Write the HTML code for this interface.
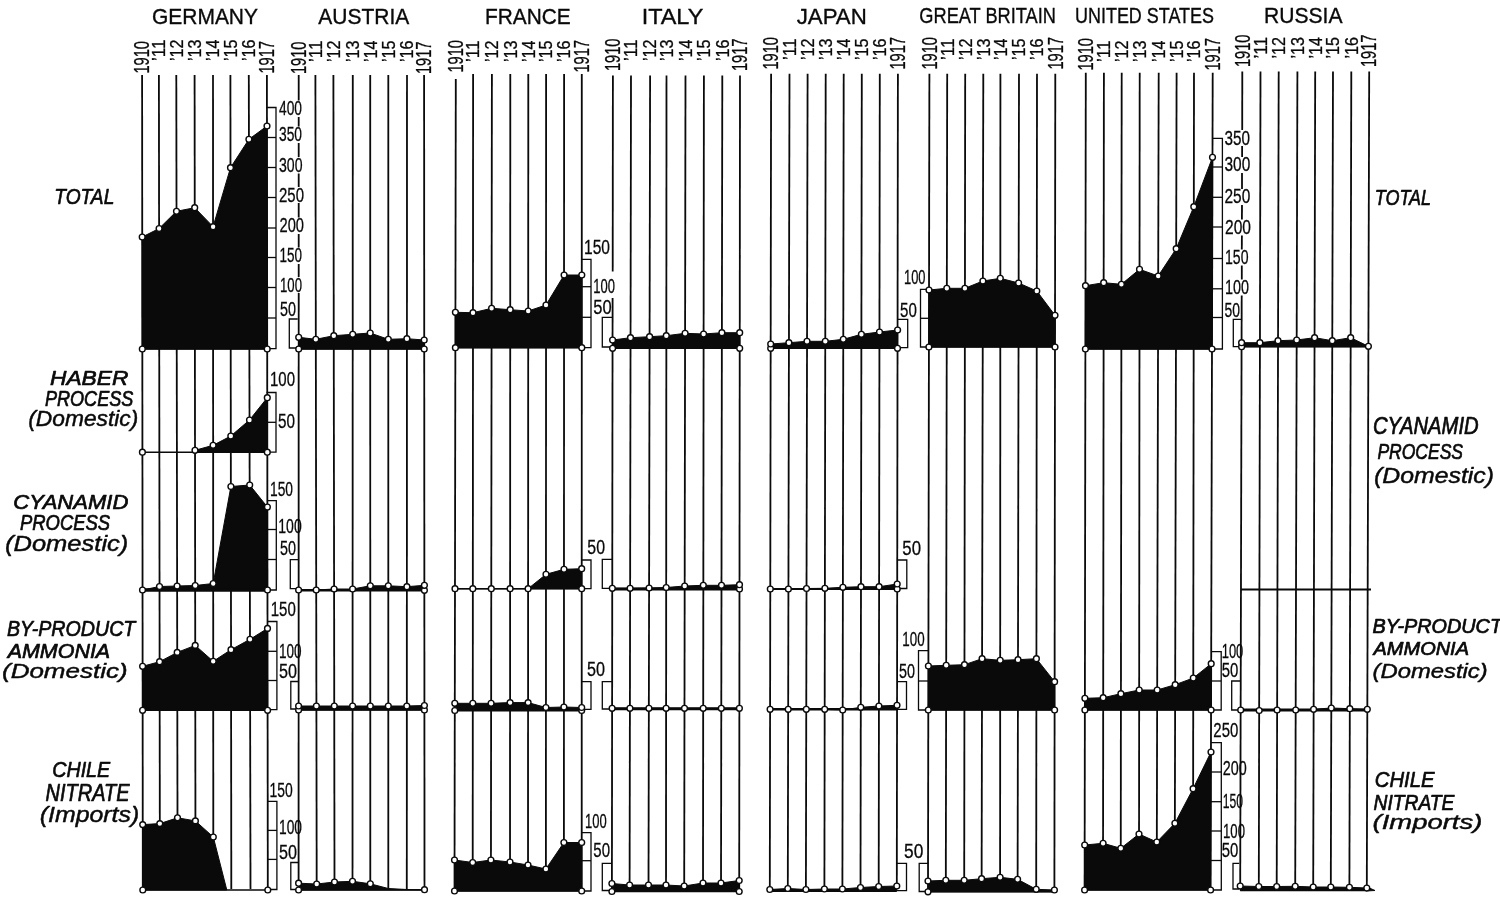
<!DOCTYPE html>
<html lang="en"><head><meta charset="utf-8"><title>Nitrogen chart</title>
<style>html,body{margin:0;padding:0;background:#fff}svg{display:block}</style></head>
<body>
<svg width="1500" height="897" viewBox="0 0 1500 897">
<rect width="1500" height="897" fill="#fff"/>
<g stroke="#0a0a0a" stroke-width="1.80" fill="none" stroke-linecap="butt">
<line x1="142.1" y1="75.0" x2="142.8" y2="889.0"/>
<line x1="158.9" y1="75.0" x2="159.9" y2="889.0"/>
<line x1="176.3" y1="75.0" x2="177.6" y2="889.0"/>
<line x1="194.6" y1="75.0" x2="195.5" y2="889.0"/>
<line x1="213.0" y1="75.0" x2="213.3" y2="889.0"/>
<line x1="230.4" y1="75.0" x2="231.3" y2="889.0"/>
<line x1="248.8" y1="75.0" x2="250.5" y2="889.0"/>
<line x1="266.9" y1="75.0" x2="267.8" y2="889.0"/>
<line x1="298.7" y1="75.0" x2="298.7" y2="100.5"/>
<line x1="298.7" y1="117.0" x2="298.7" y2="126.5"/>
<line x1="298.7" y1="143.0" x2="298.7" y2="157.0"/>
<line x1="298.7" y1="173.5" x2="298.7" y2="187.0"/>
<line x1="298.7" y1="203.0" x2="298.7" y2="217.5"/>
<line x1="298.7" y1="234.0" x2="298.7" y2="247.5"/>
<line x1="298.7" y1="264.0" x2="298.7" y2="277.0"/>
<line x1="298.7" y1="293.0" x2="298.6" y2="889.0"/>
<line x1="315.4" y1="75.0" x2="316.7" y2="889.0"/>
<line x1="333.4" y1="75.0" x2="334.5" y2="889.0"/>
<line x1="352.8" y1="75.0" x2="352.5" y2="889.0"/>
<line x1="370.2" y1="75.0" x2="370.3" y2="889.0"/>
<line x1="388.3" y1="75.0" x2="388.3" y2="889.0"/>
<line x1="407.0" y1="75.0" x2="406.8" y2="889.0"/>
<line x1="424.1" y1="75.0" x2="424.5" y2="889.0"/>
<line x1="455.8" y1="79.0" x2="454.5" y2="889.0"/>
<line x1="473.1" y1="74.0" x2="472.7" y2="889.0"/>
<line x1="491.9" y1="74.0" x2="490.9" y2="889.0"/>
<line x1="510.3" y1="74.0" x2="510.0" y2="889.0"/>
<line x1="528.3" y1="74.0" x2="528.0" y2="889.0"/>
<line x1="546.1" y1="74.0" x2="545.9" y2="889.0"/>
<line x1="564.1" y1="74.0" x2="563.9" y2="889.0"/>
<line x1="581.8" y1="74.0" x2="581.7" y2="889.0"/>
<line x1="612.9" y1="75.5" x2="612.7" y2="271.5"/>
<line x1="612.6" y1="298.0" x2="611.9" y2="889.0"/>
<line x1="631.0" y1="75.5" x2="629.6" y2="889.0"/>
<line x1="650.1" y1="75.5" x2="648.5" y2="889.0"/>
<line x1="666.5" y1="75.5" x2="666.0" y2="889.0"/>
<line x1="685.5" y1="75.5" x2="684.2" y2="889.0"/>
<line x1="703.9" y1="75.5" x2="703.0" y2="889.0"/>
<line x1="722.3" y1="75.5" x2="721.0" y2="889.0"/>
<line x1="740.0" y1="75.5" x2="739.2" y2="889.0"/>
<line x1="771.1" y1="73.7" x2="769.8" y2="889.0"/>
<line x1="789.5" y1="73.7" x2="787.8" y2="889.0"/>
<line x1="807.6" y1="73.7" x2="805.9" y2="889.0"/>
<line x1="825.7" y1="73.7" x2="824.4" y2="889.0"/>
<line x1="843.7" y1="73.7" x2="842.4" y2="889.0"/>
<line x1="861.8" y1="73.7" x2="860.5" y2="889.0"/>
<line x1="879.8" y1="73.7" x2="878.7" y2="889.0"/>
<line x1="897.9" y1="73.7" x2="896.8" y2="889.0"/>
<line x1="929.4" y1="73.7" x2="928.0" y2="889.0"/>
<line x1="947.2" y1="73.7" x2="945.8" y2="889.0"/>
<line x1="965.2" y1="73.7" x2="964.2" y2="889.0"/>
<line x1="983.3" y1="73.7" x2="981.6" y2="889.0"/>
<line x1="1000.4" y1="73.7" x2="1000.1" y2="889.0"/>
<line x1="1019.0" y1="73.7" x2="1017.6" y2="889.0"/>
<line x1="1037.0" y1="73.7" x2="1036.2" y2="889.0"/>
<line x1="1055.3" y1="73.7" x2="1054.4" y2="889.0"/>
<line x1="1085.8" y1="72.7" x2="1084.6" y2="889.0"/>
<line x1="1103.9" y1="72.7" x2="1103.0" y2="889.0"/>
<line x1="1121.7" y1="72.7" x2="1120.7" y2="889.0"/>
<line x1="1139.7" y1="72.7" x2="1139.0" y2="889.0"/>
<line x1="1158.7" y1="72.7" x2="1156.7" y2="889.0"/>
<line x1="1176.6" y1="72.7" x2="1174.7" y2="889.0"/>
<line x1="1194.0" y1="72.7" x2="1193.0" y2="889.0"/>
<line x1="1212.7" y1="72.7" x2="1210.6" y2="889.0"/>
<line x1="1242.3" y1="71.6" x2="1242.2" y2="130.0"/>
<line x1="1242.1" y1="146.0" x2="1242.1" y2="157.0"/>
<line x1="1242.0" y1="173.0" x2="1242.0" y2="189.0"/>
<line x1="1242.0" y1="205.0" x2="1241.9" y2="219.5"/>
<line x1="1241.9" y1="235.5" x2="1241.8" y2="249.5"/>
<line x1="1241.8" y1="265.5" x2="1241.8" y2="279.5"/>
<line x1="1241.7" y1="295.5" x2="1240.2" y2="889.0"/>
<line x1="1260.5" y1="71.6" x2="1258.8" y2="889.0"/>
<line x1="1278.7" y1="71.6" x2="1276.7" y2="889.0"/>
<line x1="1297.4" y1="71.6" x2="1295.2" y2="889.0"/>
<line x1="1315.2" y1="71.6" x2="1313.2" y2="889.0"/>
<line x1="1333.0" y1="71.6" x2="1330.8" y2="889.0"/>
<line x1="1351.3" y1="71.6" x2="1349.4" y2="889.0"/>
<line x1="1369.2" y1="71.6" x2="1366.8" y2="889.0"/>
</g>
<g fill="#0a0a0a" stroke="#0a0a0a" stroke-width="1" stroke-linejoin="round">
<polygon points="142.3,349.0 142.2,237.0 159.1,228.5 176.5,211.3 194.7,207.7 213.1,226.7 230.5,167.7 248.9,139.3 267.0,126.0 267.2,349.0"/>
<line x1="142.3" y1="349.0" x2="267.2" y2="349.0" stroke-width="1.6"/>
<polygon points="195.0,452.2 195.0,450.3 213.1,445.3 230.8,436.0 249.5,420.0 267.3,397.7 267.3,452.2"/>
<line x1="142.4" y1="452.2" x2="267.3" y2="452.2" stroke-width="1.6"/>
<polygon points="142.5,590.0 142.5,590.0 159.5,586.5 177.1,586.0 195.2,585.5 213.2,583.5 230.9,486.5 249.7,485.0 267.4,507.0 267.5,590.0"/>
<line x1="142.5" y1="590.0" x2="267.5" y2="590.0" stroke-width="3.5"/>
<polygon points="142.6,710.3 142.6,666.3 159.6,661.7 177.2,652.4 195.2,645.4 213.2,661.3 231.0,649.7 250.0,639.3 267.5,628.4 267.6,710.3"/>
<line x1="142.6" y1="710.3" x2="267.6" y2="710.3" stroke-width="1.6"/>
<polygon points="142.8,890.0 142.7,824.6 159.8,823.6 177.5,817.8 195.4,820.9 213.3,837.0 226.8,890.0"/>
<line x1="142.8" y1="890.0" x2="267.8" y2="890.0" stroke-width="1.6"/>
<polygon points="298.7,349.0 298.7,337.3 315.8,339.3 333.8,335.7 352.7,334.3 370.2,333.0 388.3,339.3 406.9,338.7 424.2,340.0 424.2,349.0"/>
<line x1="298.7" y1="349.0" x2="424.2" y2="349.0" stroke-width="1.6"/>
<polygon points="298.6,590.3 298.6,590.0 316.2,590.0 334.1,589.0 352.6,589.0 370.3,585.8 388.3,585.8 406.9,586.7 424.4,585.3 424.4,590.3"/>
<line x1="298.6" y1="590.3" x2="424.4" y2="590.3" stroke-width="2.5"/>
<polygon points="298.6,710.0 298.6,706.0 316.4,706.0 334.3,706.0 352.6,706.0 370.3,706.0 388.3,706.0 406.8,706.0 424.4,705.5 424.4,710.0"/>
<line x1="298.6" y1="710.0" x2="424.4" y2="710.0" stroke-width="1.6"/>
<polygon points="298.6,890.0 298.6,883.2 316.7,884.0 334.5,882.0 352.5,881.3 370.3,883.8 388.3,888.5 406.8,889.5 424.5,889.7 424.5,890.0"/>
<line x1="298.6" y1="890.0" x2="424.5" y2="890.0" stroke-width="1.6"/>
<polygon points="455.4,347.7 455.4,312.3 473.0,312.7 491.6,308.3 510.2,309.7 528.2,311.0 546.0,305.0 564.1,275.0 581.8,275.0 581.8,347.7"/>
<line x1="455.4" y1="347.7" x2="581.8" y2="347.7" stroke-width="1.6"/>
<polygon points="455.0,588.7 455.0,588.7 472.8,588.7 491.3,588.7 510.1,588.7 528.1,588.7 546.0,574.3 564.0,569.3 581.7,568.7 581.7,588.7"/>
<line x1="455.0" y1="588.7" x2="581.7" y2="588.7" stroke-width="1.6"/>
<polygon points="454.8,710.5 454.8,703.3 472.8,703.3 491.1,703.3 510.1,702.6 528.1,702.6 545.9,707.5 563.9,707.0 581.7,707.5 581.7,710.5"/>
<line x1="454.8" y1="710.5" x2="581.7" y2="710.5" stroke-width="2.0"/>
<polygon points="454.5,891.0 454.5,860.0 472.7,862.5 490.9,860.0 510.0,862.0 528.0,865.0 545.9,869.0 563.9,842.5 581.7,842.5 581.7,891.0"/>
<line x1="454.5" y1="891.0" x2="581.7" y2="891.0" stroke-width="1.6"/>
<polygon points="612.6,348.3 612.6,340.0 630.5,337.7 649.6,336.7 666.3,335.7 685.1,333.3 703.6,334.0 721.9,332.7 739.7,332.7 739.7,348.3"/>
<line x1="612.6" y1="348.3" x2="739.7" y2="348.3" stroke-width="1.6"/>
<polygon points="612.3,589.0 612.3,588.3 630.1,588.3 649.1,588.0 666.2,587.5 684.7,586.0 703.3,585.3 721.5,585.3 739.5,584.7 739.5,589.0"/>
<line x1="612.3" y1="589.0" x2="739.5" y2="589.0" stroke-width="2.8"/>
<polygon points="612.1,708.7 612.1,708.3 629.9,708.3 648.9,708.3 666.1,708.3 684.5,708.3 703.2,708.3 721.3,708.3 739.4,708.3 739.4,708.7"/>
<line x1="612.1" y1="708.7" x2="739.4" y2="708.7" stroke-width="3.0"/>
<polygon points="611.9,891.5 611.9,883.5 629.6,885.0 648.5,885.0 666.0,885.0 684.2,886.0 703.0,883.0 721.0,883.0 739.2,880.5 739.2,891.5"/>
<line x1="611.9" y1="891.5" x2="739.2" y2="891.5" stroke-width="1.6"/>
<polygon points="770.7,348.3 770.7,344.0 788.9,342.7 807.0,341.3 825.3,341.3 843.3,339.3 861.4,334.3 879.5,332.0 897.6,330.0 897.5,348.3"/>
<line x1="770.7" y1="348.3" x2="897.5" y2="348.3" stroke-width="1.6"/>
<polygon points="770.3,589.0 770.3,589.0 788.4,589.0 806.5,588.5 824.9,588.3 842.9,587.3 861.0,586.7 879.1,586.7 897.2,584.0 897.2,589.0"/>
<line x1="770.3" y1="589.0" x2="897.2" y2="589.0" stroke-width="2.0"/>
<polygon points="770.1,709.3 770.1,709.3 788.2,709.3 806.3,709.3 824.7,709.3 842.7,710.0 860.8,707.3 878.9,706.0 897.0,705.3 897.0,709.3"/>
<line x1="770.1" y1="709.3" x2="897.0" y2="709.3" stroke-width="2.5"/>
<polygon points="769.8,890.8 769.8,889.5 787.8,888.5 805.9,889.5 824.4,889.0 842.4,889.0 860.5,887.5 878.7,886.5 896.8,886.0 896.8,890.8"/>
<line x1="769.8" y1="890.8" x2="896.8" y2="890.8" stroke-width="2.6"/>
<polygon points="928.9,347.0 929.0,290.0 946.8,288.3 964.9,288.3 982.9,281.0 1000.3,278.3 1018.6,283.0 1036.8,291.0 1055.0,315.3 1055.0,347.0"/>
<line x1="928.9" y1="347.0" x2="1055.0" y2="347.0" stroke-width="1.6"/>
<polygon points="928.3,710.0 928.4,666.0 946.2,665.3 964.5,664.7 982.1,658.7 1000.2,660.3 1018.0,659.7 1036.4,658.7 1054.6,681.7 1054.6,710.0"/>
<line x1="928.3" y1="710.0" x2="1054.6" y2="710.0" stroke-width="1.6"/>
<polygon points="928.0,891.8 928.0,881.0 945.8,880.3 964.2,880.3 981.6,878.7 1000.1,877.3 1017.6,879.3 1036.2,889.3 1054.4,890.0 1054.4,891.8"/>
<line x1="928.0" y1="891.8" x2="1054.4" y2="891.8" stroke-width="1.6"/>
<polygon points="1085.4,349.0 1085.5,285.7 1103.7,282.7 1121.4,284.3 1139.5,269.3 1158.2,276.0 1176.2,248.7 1193.8,206.7 1212.5,157.3 1212.0,349.0"/>
<line x1="1085.4" y1="349.0" x2="1212.0" y2="349.0" stroke-width="1.6"/>
<polygon points="1084.9,710.0 1084.9,698.3 1103.2,697.7 1120.9,693.7 1139.2,690.0 1157.2,690.0 1175.2,684.7 1193.3,678.0 1211.2,663.7 1211.1,710.0"/>
<line x1="1084.9" y1="710.0" x2="1211.1" y2="710.0" stroke-width="1.6"/>
<polygon points="1084.6,890.0 1084.7,845.0 1103.1,843.3 1120.8,848.3 1139.0,834.0 1156.8,842.0 1174.9,823.3 1193.1,788.7 1211.0,752.0 1210.6,890.0"/>
<line x1="1084.6" y1="890.0" x2="1210.6" y2="890.0" stroke-width="1.6"/>
<polygon points="1241.6,346.7 1241.6,342.7 1259.9,342.7 1278.0,340.7 1296.7,340.0 1314.6,337.7 1332.3,340.7 1350.7,337.7 1368.4,346.3 1368.4,346.7"/>
<line x1="1241.6" y1="346.7" x2="1368.4" y2="346.7" stroke-width="1.6"/>
<polygon points="1240.7,710.0 1240.7,710.0 1259.2,710.5 1277.1,710.0 1295.7,710.0 1313.6,709.3 1331.3,708.0 1349.8,708.7 1367.3,709.3 1367.3,710.0"/>
<line x1="1240.7" y1="710.0" x2="1367.3" y2="710.0" stroke-width="3.0"/>
<polygon points="1240.2,890.3 1240.2,886.0 1258.8,886.5 1276.7,886.5 1295.2,886.3 1313.2,887.0 1330.8,887.0 1349.4,887.3 1366.8,888.0 1366.8,890.3"/>
<line x1="1240.2" y1="890.3" x2="1366.8" y2="890.3" stroke-width="2.0"/>
<line x1="1241" y1="589.4" x2="1371" y2="589.4" stroke-width="2"/>
<polygon points="1366,886.5 1375,890.5 1366,891"/>
</g>
<g stroke="#0a0a0a" stroke-width="1.3" fill="none">
<path d="M266.0 107.5H276.0V348.7H266.0"/>
<path d="M266.0 137.5H276.0"/>
<path d="M266.0 167.5H276.0"/>
<path d="M266.0 197.5H276.0"/>
<path d="M266.0 228.0H276.0"/>
<path d="M266.0 257.5H276.0"/>
<path d="M266.0 287.5H276.0"/>
<path d="M266.0 318.0H276.0"/>
<path d="M266.5 392.5H276.0V452.2H266.5"/>
<path d="M266.5 422.3H276.0"/>
<path d="M267.0 500.7H276.3V590.0H267.0"/>
<path d="M267.0 529.5H276.3"/>
<path d="M267.0 559.5H276.3"/>
<path d="M268.0 621.5H276.9V709.7H268.0"/>
<path d="M268.0 651.3H276.9"/>
<path d="M268.0 680.5H276.9"/>
<path d="M268.0 801.4H276.9V889.5H268.0"/>
<path d="M268.0 830.4H276.9"/>
<path d="M268.0 859.4H276.9"/>
<path d="M297.7 319.0H289.3V348.0H297.7"/>
<path d="M298.4 559.7H290.3V588.7H298.4"/>
<path d="M298.6 681.5H290.8V709.0H298.6"/>
<path d="M298.9 862.5H290.8V889.5H298.9"/>
<path d="M581.3 259.3H591.0V347.7H581.3"/>
<path d="M581.3 286.7H591.0"/>
<path d="M581.3 317.3H591.0"/>
<path d="M581.5 560.0H591.0V588.7H581.5"/>
<path d="M581.6 681.7H591.0V709.3H581.6"/>
<path d="M581.7 832.7H591.0V891.0H581.7"/>
<path d="M581.7 860.7H591.0"/>
<path d="M612.3 317.3H602.3V347.0H612.3"/>
<path d="M612.0 559.3H602.3V588.3H612.0"/>
<path d="M612.0 681.7H602.3V709.0H612.0"/>
<path d="M611.7 863.3H602.3V890.5H611.7"/>
<path d="M897.5 319.3H907.7V347.7H897.5"/>
<path d="M897.2 560.0H906.8V588.5H897.2"/>
<path d="M897.0 681.7H906.5V709.3H897.0"/>
<path d="M896.8 863.3H906.5V890.6H896.8"/>
<path d="M929.3 289.3H920.5V347.0H929.3"/>
<path d="M929.3 318.3H920.5"/>
<path d="M928.7 650.7H918.5V710.0H928.7"/>
<path d="M928.7 681.0H918.5"/>
<path d="M928.3 863.3H919.2V891.5H928.3"/>
<path d="M1212.5 138.4H1222.4V349.0H1212.5"/>
<path d="M1212.5 167.0H1222.4"/>
<path d="M1212.5 197.3H1222.4"/>
<path d="M1212.5 227.0H1222.4"/>
<path d="M1212.5 258.5H1222.4"/>
<path d="M1212.5 288.8H1222.4"/>
<path d="M1212.5 317.5H1222.4"/>
<path d="M1211.6 651.7H1221.2V710.0H1211.6"/>
<path d="M1211.6 681.0H1221.2"/>
<path d="M1211.0 742.7H1221.3V890.0H1211.0"/>
<path d="M1211.0 772.0H1221.3"/>
<path d="M1211.0 801.7H1221.3"/>
<path d="M1211.0 831.0H1221.3"/>
<path d="M1211.0 860.5H1221.3"/>
<path d="M1241.0 319.3H1233.3V346.7H1241.0"/>
<path d="M1240.0 681.0H1231.7V710.0H1240.0"/>
<path d="M1239.3 863.3H1233.0V889.0H1239.3"/>
</g>
<g fill="#fff" stroke="#0a0a0a" stroke-width="1.4">
<circle cx="142.3" cy="349.0" r="2.9"/>
<circle cx="267.2" cy="349.0" r="2.9"/>
<circle cx="142.2" cy="237.0" r="2.9"/>
<circle cx="159.1" cy="228.5" r="2.9"/>
<circle cx="176.5" cy="211.3" r="2.9"/>
<circle cx="194.7" cy="207.7" r="2.9"/>
<circle cx="213.1" cy="226.7" r="2.9"/>
<circle cx="230.5" cy="167.7" r="2.9"/>
<circle cx="248.9" cy="139.3" r="2.9"/>
<circle cx="267.0" cy="126.0" r="2.9"/>
<circle cx="267.3" cy="452.2" r="2.9"/>
<circle cx="142.4" cy="452.2" r="2.9"/>
<circle cx="195.0" cy="450.3" r="2.9"/>
<circle cx="213.1" cy="445.3" r="2.9"/>
<circle cx="230.8" cy="436.0" r="2.9"/>
<circle cx="249.5" cy="420.0" r="2.9"/>
<circle cx="267.3" cy="397.7" r="2.9"/>
<circle cx="267.5" cy="590.0" r="2.9"/>
<circle cx="142.5" cy="590.0" r="2.9"/>
<circle cx="159.5" cy="586.5" r="2.9"/>
<circle cx="177.1" cy="586.0" r="2.9"/>
<circle cx="195.2" cy="585.5" r="2.9"/>
<circle cx="213.2" cy="583.5" r="2.9"/>
<circle cx="230.9" cy="486.5" r="2.9"/>
<circle cx="249.7" cy="485.0" r="2.9"/>
<circle cx="267.4" cy="507.0" r="2.9"/>
<circle cx="142.6" cy="710.3" r="2.9"/>
<circle cx="267.6" cy="710.3" r="2.9"/>
<circle cx="142.6" cy="666.3" r="2.9"/>
<circle cx="159.6" cy="661.7" r="2.9"/>
<circle cx="177.2" cy="652.4" r="2.9"/>
<circle cx="195.2" cy="645.4" r="2.9"/>
<circle cx="213.2" cy="661.3" r="2.9"/>
<circle cx="231.0" cy="649.7" r="2.9"/>
<circle cx="250.0" cy="639.3" r="2.9"/>
<circle cx="267.5" cy="628.4" r="2.9"/>
<circle cx="142.8" cy="890.0" r="2.9"/>
<circle cx="267.8" cy="890.0" r="2.9"/>
<circle cx="142.7" cy="824.6" r="2.9"/>
<circle cx="159.8" cy="823.6" r="2.9"/>
<circle cx="177.5" cy="817.8" r="2.9"/>
<circle cx="195.4" cy="820.9" r="2.9"/>
<circle cx="213.3" cy="837.0" r="2.9"/>
<circle cx="298.7" cy="349.0" r="2.9"/>
<circle cx="424.2" cy="349.0" r="2.9"/>
<circle cx="298.7" cy="337.3" r="2.9"/>
<circle cx="315.8" cy="339.3" r="2.9"/>
<circle cx="333.8" cy="335.7" r="2.9"/>
<circle cx="352.7" cy="334.3" r="2.9"/>
<circle cx="370.2" cy="333.0" r="2.9"/>
<circle cx="388.3" cy="339.3" r="2.9"/>
<circle cx="406.9" cy="338.7" r="2.9"/>
<circle cx="424.2" cy="340.0" r="2.9"/>
<circle cx="424.4" cy="590.3" r="2.9"/>
<circle cx="298.6" cy="590.0" r="2.9"/>
<circle cx="316.2" cy="590.0" r="2.9"/>
<circle cx="334.1" cy="589.0" r="2.9"/>
<circle cx="352.6" cy="589.0" r="2.9"/>
<circle cx="370.3" cy="585.8" r="2.9"/>
<circle cx="388.3" cy="585.8" r="2.9"/>
<circle cx="406.9" cy="586.7" r="2.9"/>
<circle cx="424.4" cy="585.3" r="2.9"/>
<circle cx="298.6" cy="710.0" r="2.9"/>
<circle cx="424.4" cy="710.0" r="2.9"/>
<circle cx="298.6" cy="706.0" r="2.9"/>
<circle cx="316.4" cy="706.0" r="2.9"/>
<circle cx="334.3" cy="706.0" r="2.9"/>
<circle cx="352.6" cy="706.0" r="2.9"/>
<circle cx="370.3" cy="706.0" r="2.9"/>
<circle cx="388.3" cy="706.0" r="2.9"/>
<circle cx="406.8" cy="706.0" r="2.9"/>
<circle cx="424.4" cy="705.5" r="2.9"/>
<circle cx="298.6" cy="890.0" r="2.9"/>
<circle cx="298.6" cy="883.2" r="2.9"/>
<circle cx="316.7" cy="884.0" r="2.9"/>
<circle cx="334.5" cy="882.0" r="2.9"/>
<circle cx="352.5" cy="881.3" r="2.9"/>
<circle cx="370.3" cy="883.8" r="2.9"/>
<circle cx="424.5" cy="889.7" r="2.9"/>
<circle cx="455.4" cy="347.7" r="2.9"/>
<circle cx="581.8" cy="347.7" r="2.9"/>
<circle cx="455.4" cy="312.3" r="2.9"/>
<circle cx="473.0" cy="312.7" r="2.9"/>
<circle cx="491.6" cy="308.3" r="2.9"/>
<circle cx="510.2" cy="309.7" r="2.9"/>
<circle cx="528.2" cy="311.0" r="2.9"/>
<circle cx="546.0" cy="305.0" r="2.9"/>
<circle cx="564.1" cy="275.0" r="2.9"/>
<circle cx="581.8" cy="275.0" r="2.9"/>
<circle cx="581.7" cy="588.7" r="2.9"/>
<circle cx="455.0" cy="588.7" r="2.9"/>
<circle cx="472.8" cy="588.7" r="2.9"/>
<circle cx="491.3" cy="588.7" r="2.9"/>
<circle cx="510.1" cy="588.7" r="2.9"/>
<circle cx="528.1" cy="588.7" r="2.9"/>
<circle cx="546.0" cy="574.3" r="2.9"/>
<circle cx="564.0" cy="569.3" r="2.9"/>
<circle cx="581.7" cy="568.7" r="2.9"/>
<circle cx="454.8" cy="710.5" r="2.9"/>
<circle cx="581.7" cy="710.5" r="2.9"/>
<circle cx="454.8" cy="703.3" r="2.9"/>
<circle cx="472.8" cy="703.3" r="2.9"/>
<circle cx="491.1" cy="703.3" r="2.9"/>
<circle cx="510.1" cy="702.6" r="2.9"/>
<circle cx="528.1" cy="702.6" r="2.9"/>
<circle cx="545.9" cy="707.5" r="2.9"/>
<circle cx="563.9" cy="707.0" r="2.9"/>
<circle cx="581.7" cy="707.5" r="2.9"/>
<circle cx="454.5" cy="891.0" r="2.9"/>
<circle cx="581.7" cy="891.0" r="2.9"/>
<circle cx="454.5" cy="860.0" r="2.9"/>
<circle cx="472.7" cy="862.5" r="2.9"/>
<circle cx="490.9" cy="860.0" r="2.9"/>
<circle cx="510.0" cy="862.0" r="2.9"/>
<circle cx="528.0" cy="865.0" r="2.9"/>
<circle cx="545.9" cy="869.0" r="2.9"/>
<circle cx="563.9" cy="842.5" r="2.9"/>
<circle cx="581.7" cy="842.5" r="2.9"/>
<circle cx="612.6" cy="348.3" r="2.9"/>
<circle cx="739.7" cy="348.3" r="2.9"/>
<circle cx="612.6" cy="340.0" r="2.9"/>
<circle cx="630.5" cy="337.7" r="2.9"/>
<circle cx="649.6" cy="336.7" r="2.9"/>
<circle cx="666.3" cy="335.7" r="2.9"/>
<circle cx="685.1" cy="333.3" r="2.9"/>
<circle cx="703.6" cy="334.0" r="2.9"/>
<circle cx="721.9" cy="332.7" r="2.9"/>
<circle cx="739.7" cy="332.7" r="2.9"/>
<circle cx="739.5" cy="589.0" r="2.9"/>
<circle cx="612.3" cy="588.3" r="2.9"/>
<circle cx="630.1" cy="588.3" r="2.9"/>
<circle cx="649.1" cy="588.0" r="2.9"/>
<circle cx="666.2" cy="587.5" r="2.9"/>
<circle cx="684.7" cy="586.0" r="2.9"/>
<circle cx="703.3" cy="585.3" r="2.9"/>
<circle cx="721.5" cy="585.3" r="2.9"/>
<circle cx="739.5" cy="584.7" r="2.9"/>
<circle cx="612.1" cy="708.3" r="2.9"/>
<circle cx="629.9" cy="708.3" r="2.9"/>
<circle cx="648.9" cy="708.3" r="2.9"/>
<circle cx="666.1" cy="708.3" r="2.9"/>
<circle cx="684.5" cy="708.3" r="2.9"/>
<circle cx="703.2" cy="708.3" r="2.9"/>
<circle cx="721.3" cy="708.3" r="2.9"/>
<circle cx="739.4" cy="708.3" r="2.9"/>
<circle cx="611.9" cy="891.5" r="2.9"/>
<circle cx="739.2" cy="891.5" r="2.9"/>
<circle cx="611.9" cy="883.5" r="2.9"/>
<circle cx="629.6" cy="885.0" r="2.9"/>
<circle cx="648.5" cy="885.0" r="2.9"/>
<circle cx="666.0" cy="885.0" r="2.9"/>
<circle cx="684.2" cy="886.0" r="2.9"/>
<circle cx="703.0" cy="883.0" r="2.9"/>
<circle cx="721.0" cy="883.0" r="2.9"/>
<circle cx="739.2" cy="880.5" r="2.9"/>
<circle cx="770.7" cy="348.3" r="2.9"/>
<circle cx="897.5" cy="348.3" r="2.9"/>
<circle cx="770.7" cy="344.0" r="2.9"/>
<circle cx="788.9" cy="342.7" r="2.9"/>
<circle cx="807.0" cy="341.3" r="2.9"/>
<circle cx="825.3" cy="341.3" r="2.9"/>
<circle cx="843.3" cy="339.3" r="2.9"/>
<circle cx="861.4" cy="334.3" r="2.9"/>
<circle cx="879.5" cy="332.0" r="2.9"/>
<circle cx="897.6" cy="330.0" r="2.9"/>
<circle cx="897.2" cy="589.0" r="2.9"/>
<circle cx="770.3" cy="589.0" r="2.9"/>
<circle cx="788.4" cy="589.0" r="2.9"/>
<circle cx="806.5" cy="588.5" r="2.9"/>
<circle cx="824.9" cy="588.3" r="2.9"/>
<circle cx="842.9" cy="587.3" r="2.9"/>
<circle cx="861.0" cy="586.7" r="2.9"/>
<circle cx="879.1" cy="586.7" r="2.9"/>
<circle cx="897.2" cy="584.0" r="2.9"/>
<circle cx="770.1" cy="709.3" r="2.9"/>
<circle cx="788.2" cy="709.3" r="2.9"/>
<circle cx="806.3" cy="709.3" r="2.9"/>
<circle cx="824.7" cy="709.3" r="2.9"/>
<circle cx="842.7" cy="710.0" r="2.9"/>
<circle cx="860.8" cy="707.3" r="2.9"/>
<circle cx="878.9" cy="706.0" r="2.9"/>
<circle cx="897.0" cy="705.3" r="2.9"/>
<circle cx="769.8" cy="889.5" r="2.9"/>
<circle cx="787.8" cy="888.5" r="2.9"/>
<circle cx="805.9" cy="889.5" r="2.9"/>
<circle cx="824.4" cy="889.0" r="2.9"/>
<circle cx="842.4" cy="889.0" r="2.9"/>
<circle cx="860.5" cy="887.5" r="2.9"/>
<circle cx="878.7" cy="886.5" r="2.9"/>
<circle cx="896.8" cy="886.0" r="2.9"/>
<circle cx="928.9" cy="347.0" r="2.9"/>
<circle cx="1055.0" cy="347.0" r="2.9"/>
<circle cx="929.0" cy="290.0" r="2.9"/>
<circle cx="946.8" cy="288.3" r="2.9"/>
<circle cx="964.9" cy="288.3" r="2.9"/>
<circle cx="982.9" cy="281.0" r="2.9"/>
<circle cx="1000.3" cy="278.3" r="2.9"/>
<circle cx="1018.6" cy="283.0" r="2.9"/>
<circle cx="1036.8" cy="291.0" r="2.9"/>
<circle cx="1055.0" cy="315.3" r="2.9"/>
<circle cx="928.3" cy="710.0" r="2.9"/>
<circle cx="1054.6" cy="710.0" r="2.9"/>
<circle cx="928.4" cy="666.0" r="2.9"/>
<circle cx="946.2" cy="665.3" r="2.9"/>
<circle cx="964.5" cy="664.7" r="2.9"/>
<circle cx="982.1" cy="658.7" r="2.9"/>
<circle cx="1000.2" cy="660.3" r="2.9"/>
<circle cx="1018.0" cy="659.7" r="2.9"/>
<circle cx="1036.4" cy="658.7" r="2.9"/>
<circle cx="1054.6" cy="681.7" r="2.9"/>
<circle cx="928.0" cy="891.8" r="2.9"/>
<circle cx="928.0" cy="881.0" r="2.9"/>
<circle cx="945.8" cy="880.3" r="2.9"/>
<circle cx="964.2" cy="880.3" r="2.9"/>
<circle cx="981.6" cy="878.7" r="2.9"/>
<circle cx="1000.1" cy="877.3" r="2.9"/>
<circle cx="1017.6" cy="879.3" r="2.9"/>
<circle cx="1036.2" cy="889.3" r="2.9"/>
<circle cx="1054.4" cy="890.0" r="2.9"/>
<circle cx="1085.4" cy="349.0" r="2.9"/>
<circle cx="1212.0" cy="349.0" r="2.9"/>
<circle cx="1085.5" cy="285.7" r="2.9"/>
<circle cx="1103.7" cy="282.7" r="2.9"/>
<circle cx="1121.4" cy="284.3" r="2.9"/>
<circle cx="1139.5" cy="269.3" r="2.9"/>
<circle cx="1158.2" cy="276.0" r="2.9"/>
<circle cx="1176.2" cy="248.7" r="2.9"/>
<circle cx="1193.8" cy="206.7" r="2.9"/>
<circle cx="1212.5" cy="157.3" r="2.9"/>
<circle cx="1084.9" cy="710.0" r="2.9"/>
<circle cx="1211.1" cy="710.0" r="2.9"/>
<circle cx="1084.9" cy="698.3" r="2.9"/>
<circle cx="1103.2" cy="697.7" r="2.9"/>
<circle cx="1120.9" cy="693.7" r="2.9"/>
<circle cx="1139.2" cy="690.0" r="2.9"/>
<circle cx="1157.2" cy="690.0" r="2.9"/>
<circle cx="1175.2" cy="684.7" r="2.9"/>
<circle cx="1193.3" cy="678.0" r="2.9"/>
<circle cx="1211.2" cy="663.7" r="2.9"/>
<circle cx="1084.6" cy="890.0" r="2.9"/>
<circle cx="1210.6" cy="890.0" r="2.9"/>
<circle cx="1084.7" cy="845.0" r="2.9"/>
<circle cx="1103.1" cy="843.3" r="2.9"/>
<circle cx="1120.8" cy="848.3" r="2.9"/>
<circle cx="1139.0" cy="834.0" r="2.9"/>
<circle cx="1156.8" cy="842.0" r="2.9"/>
<circle cx="1174.9" cy="823.3" r="2.9"/>
<circle cx="1193.1" cy="788.7" r="2.9"/>
<circle cx="1211.0" cy="752.0" r="2.9"/>
<circle cx="1241.6" cy="346.7" r="2.9"/>
<circle cx="1241.6" cy="342.7" r="2.9"/>
<circle cx="1259.9" cy="342.7" r="2.9"/>
<circle cx="1278.0" cy="340.7" r="2.9"/>
<circle cx="1296.7" cy="340.0" r="2.9"/>
<circle cx="1314.6" cy="337.7" r="2.9"/>
<circle cx="1332.3" cy="340.7" r="2.9"/>
<circle cx="1350.7" cy="337.7" r="2.9"/>
<circle cx="1368.4" cy="346.3" r="2.9"/>
<circle cx="1240.7" cy="710.0" r="2.9"/>
<circle cx="1259.2" cy="710.5" r="2.9"/>
<circle cx="1277.1" cy="710.0" r="2.9"/>
<circle cx="1295.7" cy="710.0" r="2.9"/>
<circle cx="1313.6" cy="709.3" r="2.9"/>
<circle cx="1331.3" cy="708.0" r="2.9"/>
<circle cx="1349.8" cy="708.7" r="2.9"/>
<circle cx="1367.3" cy="709.3" r="2.9"/>
<circle cx="1240.2" cy="886.0" r="2.9"/>
<circle cx="1258.8" cy="886.5" r="2.9"/>
<circle cx="1276.7" cy="886.5" r="2.9"/>
<circle cx="1295.2" cy="886.3" r="2.9"/>
<circle cx="1313.2" cy="887.0" r="2.9"/>
<circle cx="1330.8" cy="887.0" r="2.9"/>
<circle cx="1349.4" cy="887.3" r="2.9"/>
<circle cx="1366.8" cy="888.0" r="2.9"/>
</g>
<g font-family="'Liberation Sans', sans-serif" fill="#0a0a0a" stroke="#0a0a0a" stroke-width="0.35">
<text x="152.0" y="24.2" font-size="22.2" textLength="106.0" lengthAdjust="spacingAndGlyphs" >GERMANY</text>
<text x="318.3" y="24.2" font-size="22.2" textLength="91.0" lengthAdjust="spacingAndGlyphs" >AUSTRIA</text>
<text x="485.0" y="24.2" font-size="22.2" textLength="85.7" lengthAdjust="spacingAndGlyphs" >FRANCE</text>
<text x="641.7" y="24.2" font-size="22.2" textLength="61.6" lengthAdjust="spacingAndGlyphs" >ITALY</text>
<text x="796.7" y="24.2" font-size="22.2" textLength="70.0" lengthAdjust="spacingAndGlyphs" >JAPAN</text>
<text x="919.3" y="23.4" font-size="22.6" textLength="136.7" lengthAdjust="spacingAndGlyphs" >GREAT BRITAIN</text>
<text x="1075.0" y="23.4" font-size="22.6" textLength="139.0" lengthAdjust="spacingAndGlyphs" >UNITED STATES</text>
<text x="1264.0" y="23.4" font-size="22.6" textLength="78.5" lengthAdjust="spacingAndGlyphs" >RUSSIA</text>
<text transform="translate(149.3 73.5) rotate(-90)" font-size="21.5" textLength="32.5" lengthAdjust="spacingAndGlyphs" stroke="#0a0a0a" stroke-width="0.3">1910</text>
<text transform="translate(165.2 61.0) rotate(-90)" font-size="18.0" textLength="21.5" lengthAdjust="spacingAndGlyphs" stroke="#0a0a0a" stroke-width="0.3">’11</text>
<text transform="translate(182.6 61.0) rotate(-90)" font-size="18.0" textLength="21.5" lengthAdjust="spacingAndGlyphs" stroke="#0a0a0a" stroke-width="0.3">’12</text>
<text transform="translate(200.9 61.0) rotate(-90)" font-size="18.0" textLength="21.5" lengthAdjust="spacingAndGlyphs" stroke="#0a0a0a" stroke-width="0.3">’13</text>
<text transform="translate(219.3 61.0) rotate(-90)" font-size="18.0" textLength="21.5" lengthAdjust="spacingAndGlyphs" stroke="#0a0a0a" stroke-width="0.3">’14</text>
<text transform="translate(236.7 61.0) rotate(-90)" font-size="18.0" textLength="21.5" lengthAdjust="spacingAndGlyphs" stroke="#0a0a0a" stroke-width="0.3">’15</text>
<text transform="translate(255.1 61.0) rotate(-90)" font-size="18.0" textLength="21.5" lengthAdjust="spacingAndGlyphs" stroke="#0a0a0a" stroke-width="0.3">’16</text>
<text transform="translate(274.1 73.5) rotate(-90)" font-size="21.5" textLength="32.5" lengthAdjust="spacingAndGlyphs" stroke="#0a0a0a" stroke-width="0.3">1917</text>
<text transform="translate(305.9 74.0) rotate(-90)" font-size="21.5" textLength="32.5" lengthAdjust="spacingAndGlyphs" stroke="#0a0a0a" stroke-width="0.3">1910</text>
<text transform="translate(321.7 62.0) rotate(-90)" font-size="18.0" textLength="21.5" lengthAdjust="spacingAndGlyphs" stroke="#0a0a0a" stroke-width="0.3">’11</text>
<text transform="translate(339.7 62.0) rotate(-90)" font-size="18.0" textLength="21.5" lengthAdjust="spacingAndGlyphs" stroke="#0a0a0a" stroke-width="0.3">’12</text>
<text transform="translate(359.1 62.0) rotate(-90)" font-size="18.0" textLength="21.5" lengthAdjust="spacingAndGlyphs" stroke="#0a0a0a" stroke-width="0.3">’13</text>
<text transform="translate(376.5 62.0) rotate(-90)" font-size="18.0" textLength="21.5" lengthAdjust="spacingAndGlyphs" stroke="#0a0a0a" stroke-width="0.3">’14</text>
<text transform="translate(394.6 62.0) rotate(-90)" font-size="18.0" textLength="21.5" lengthAdjust="spacingAndGlyphs" stroke="#0a0a0a" stroke-width="0.3">’15</text>
<text transform="translate(413.3 62.0) rotate(-90)" font-size="18.0" textLength="21.5" lengthAdjust="spacingAndGlyphs" stroke="#0a0a0a" stroke-width="0.3">’16</text>
<text transform="translate(431.3 74.0) rotate(-90)" font-size="21.5" textLength="32.5" lengthAdjust="spacingAndGlyphs" stroke="#0a0a0a" stroke-width="0.3">1917</text>
<text transform="translate(463.0 72.5) rotate(-90)" font-size="21.5" textLength="32.5" lengthAdjust="spacingAndGlyphs" stroke="#0a0a0a" stroke-width="0.3">1910</text>
<text transform="translate(479.4 62.0) rotate(-90)" font-size="18.0" textLength="21.5" lengthAdjust="spacingAndGlyphs" stroke="#0a0a0a" stroke-width="0.3">’11</text>
<text transform="translate(498.2 62.0) rotate(-90)" font-size="18.0" textLength="21.5" lengthAdjust="spacingAndGlyphs" stroke="#0a0a0a" stroke-width="0.3">’12</text>
<text transform="translate(516.6 62.0) rotate(-90)" font-size="18.0" textLength="21.5" lengthAdjust="spacingAndGlyphs" stroke="#0a0a0a" stroke-width="0.3">’13</text>
<text transform="translate(534.6 62.0) rotate(-90)" font-size="18.0" textLength="21.5" lengthAdjust="spacingAndGlyphs" stroke="#0a0a0a" stroke-width="0.3">’14</text>
<text transform="translate(552.4 62.0) rotate(-90)" font-size="18.0" textLength="21.5" lengthAdjust="spacingAndGlyphs" stroke="#0a0a0a" stroke-width="0.3">’15</text>
<text transform="translate(570.4 62.0) rotate(-90)" font-size="18.0" textLength="21.5" lengthAdjust="spacingAndGlyphs" stroke="#0a0a0a" stroke-width="0.3">’16</text>
<text transform="translate(589.0 72.5) rotate(-90)" font-size="21.5" textLength="32.5" lengthAdjust="spacingAndGlyphs" stroke="#0a0a0a" stroke-width="0.3">1917</text>
<text transform="translate(620.1 71.0) rotate(-90)" font-size="21.5" textLength="32.5" lengthAdjust="spacingAndGlyphs" stroke="#0a0a0a" stroke-width="0.3">1910</text>
<text transform="translate(637.3 61.0) rotate(-90)" font-size="18.0" textLength="21.5" lengthAdjust="spacingAndGlyphs" stroke="#0a0a0a" stroke-width="0.3">’11</text>
<text transform="translate(656.4 61.0) rotate(-90)" font-size="18.0" textLength="21.5" lengthAdjust="spacingAndGlyphs" stroke="#0a0a0a" stroke-width="0.3">’12</text>
<text transform="translate(672.8 61.0) rotate(-90)" font-size="18.0" textLength="21.5" lengthAdjust="spacingAndGlyphs" stroke="#0a0a0a" stroke-width="0.3">’13</text>
<text transform="translate(691.8 61.0) rotate(-90)" font-size="18.0" textLength="21.5" lengthAdjust="spacingAndGlyphs" stroke="#0a0a0a" stroke-width="0.3">’14</text>
<text transform="translate(710.2 61.0) rotate(-90)" font-size="18.0" textLength="21.5" lengthAdjust="spacingAndGlyphs" stroke="#0a0a0a" stroke-width="0.3">’15</text>
<text transform="translate(728.6 61.0) rotate(-90)" font-size="18.0" textLength="21.5" lengthAdjust="spacingAndGlyphs" stroke="#0a0a0a" stroke-width="0.3">’16</text>
<text transform="translate(747.2 71.0) rotate(-90)" font-size="21.5" textLength="32.5" lengthAdjust="spacingAndGlyphs" stroke="#0a0a0a" stroke-width="0.3">1917</text>
<text transform="translate(778.3 69.5) rotate(-90)" font-size="21.5" textLength="32.5" lengthAdjust="spacingAndGlyphs" stroke="#0a0a0a" stroke-width="0.3">1910</text>
<text transform="translate(795.8 60.0) rotate(-90)" font-size="18.0" textLength="21.5" lengthAdjust="spacingAndGlyphs" stroke="#0a0a0a" stroke-width="0.3">’11</text>
<text transform="translate(813.9 60.0) rotate(-90)" font-size="18.0" textLength="21.5" lengthAdjust="spacingAndGlyphs" stroke="#0a0a0a" stroke-width="0.3">’12</text>
<text transform="translate(832.0 60.0) rotate(-90)" font-size="18.0" textLength="21.5" lengthAdjust="spacingAndGlyphs" stroke="#0a0a0a" stroke-width="0.3">’13</text>
<text transform="translate(850.0 60.0) rotate(-90)" font-size="18.0" textLength="21.5" lengthAdjust="spacingAndGlyphs" stroke="#0a0a0a" stroke-width="0.3">’14</text>
<text transform="translate(868.1 60.0) rotate(-90)" font-size="18.0" textLength="21.5" lengthAdjust="spacingAndGlyphs" stroke="#0a0a0a" stroke-width="0.3">’15</text>
<text transform="translate(886.1 60.0) rotate(-90)" font-size="18.0" textLength="21.5" lengthAdjust="spacingAndGlyphs" stroke="#0a0a0a" stroke-width="0.3">’16</text>
<text transform="translate(905.1 69.5) rotate(-90)" font-size="21.5" textLength="32.5" lengthAdjust="spacingAndGlyphs" stroke="#0a0a0a" stroke-width="0.3">1917</text>
<text transform="translate(936.6 69.5) rotate(-90)" font-size="21.5" textLength="32.5" lengthAdjust="spacingAndGlyphs" stroke="#0a0a0a" stroke-width="0.3">1910</text>
<text transform="translate(953.5 60.0) rotate(-90)" font-size="18.0" textLength="21.5" lengthAdjust="spacingAndGlyphs" stroke="#0a0a0a" stroke-width="0.3">’11</text>
<text transform="translate(971.5 60.0) rotate(-90)" font-size="18.0" textLength="21.5" lengthAdjust="spacingAndGlyphs" stroke="#0a0a0a" stroke-width="0.3">’12</text>
<text transform="translate(989.6 60.0) rotate(-90)" font-size="18.0" textLength="21.5" lengthAdjust="spacingAndGlyphs" stroke="#0a0a0a" stroke-width="0.3">’13</text>
<text transform="translate(1006.7 60.0) rotate(-90)" font-size="18.0" textLength="21.5" lengthAdjust="spacingAndGlyphs" stroke="#0a0a0a" stroke-width="0.3">’14</text>
<text transform="translate(1025.3 60.0) rotate(-90)" font-size="18.0" textLength="21.5" lengthAdjust="spacingAndGlyphs" stroke="#0a0a0a" stroke-width="0.3">’15</text>
<text transform="translate(1043.3 60.0) rotate(-90)" font-size="18.0" textLength="21.5" lengthAdjust="spacingAndGlyphs" stroke="#0a0a0a" stroke-width="0.3">’16</text>
<text transform="translate(1062.5 69.5) rotate(-90)" font-size="21.5" textLength="32.5" lengthAdjust="spacingAndGlyphs" stroke="#0a0a0a" stroke-width="0.3">1917</text>
<text transform="translate(1093.0 70.5) rotate(-90)" font-size="21.5" textLength="32.5" lengthAdjust="spacingAndGlyphs" stroke="#0a0a0a" stroke-width="0.3">1910</text>
<text transform="translate(1110.2 62.0) rotate(-90)" font-size="18.0" textLength="21.5" lengthAdjust="spacingAndGlyphs" stroke="#0a0a0a" stroke-width="0.3">’11</text>
<text transform="translate(1128.0 62.0) rotate(-90)" font-size="18.0" textLength="21.5" lengthAdjust="spacingAndGlyphs" stroke="#0a0a0a" stroke-width="0.3">’12</text>
<text transform="translate(1146.0 62.0) rotate(-90)" font-size="18.0" textLength="21.5" lengthAdjust="spacingAndGlyphs" stroke="#0a0a0a" stroke-width="0.3">’13</text>
<text transform="translate(1165.0 62.0) rotate(-90)" font-size="18.0" textLength="21.5" lengthAdjust="spacingAndGlyphs" stroke="#0a0a0a" stroke-width="0.3">’14</text>
<text transform="translate(1182.9 62.0) rotate(-90)" font-size="18.0" textLength="21.5" lengthAdjust="spacingAndGlyphs" stroke="#0a0a0a" stroke-width="0.3">’15</text>
<text transform="translate(1200.3 62.0) rotate(-90)" font-size="18.0" textLength="21.5" lengthAdjust="spacingAndGlyphs" stroke="#0a0a0a" stroke-width="0.3">’16</text>
<text transform="translate(1219.9 70.5) rotate(-90)" font-size="21.5" textLength="32.5" lengthAdjust="spacingAndGlyphs" stroke="#0a0a0a" stroke-width="0.3">1917</text>
<text transform="translate(1249.5 67.0) rotate(-90)" font-size="21.5" textLength="32.5" lengthAdjust="spacingAndGlyphs" stroke="#0a0a0a" stroke-width="0.3">1910</text>
<text transform="translate(1266.8 58.5) rotate(-90)" font-size="18.0" textLength="21.5" lengthAdjust="spacingAndGlyphs" stroke="#0a0a0a" stroke-width="0.3">’11</text>
<text transform="translate(1285.0 58.5) rotate(-90)" font-size="18.0" textLength="21.5" lengthAdjust="spacingAndGlyphs" stroke="#0a0a0a" stroke-width="0.3">’12</text>
<text transform="translate(1303.7 58.5) rotate(-90)" font-size="18.0" textLength="21.5" lengthAdjust="spacingAndGlyphs" stroke="#0a0a0a" stroke-width="0.3">’13</text>
<text transform="translate(1321.5 58.5) rotate(-90)" font-size="18.0" textLength="21.5" lengthAdjust="spacingAndGlyphs" stroke="#0a0a0a" stroke-width="0.3">’14</text>
<text transform="translate(1339.3 58.5) rotate(-90)" font-size="18.0" textLength="21.5" lengthAdjust="spacingAndGlyphs" stroke="#0a0a0a" stroke-width="0.3">’15</text>
<text transform="translate(1357.6 58.5) rotate(-90)" font-size="18.0" textLength="21.5" lengthAdjust="spacingAndGlyphs" stroke="#0a0a0a" stroke-width="0.3">’16</text>
<text transform="translate(1376.4 67.0) rotate(-90)" font-size="21.5" textLength="32.5" lengthAdjust="spacingAndGlyphs" stroke="#0a0a0a" stroke-width="0.3">1917</text>
</g>
<g font-family="'Liberation Sans', sans-serif" fill="#0a0a0a" stroke="#0a0a0a" stroke-width="0.3">
<text x="279.0" y="115.2" font-size="20.9" textLength="23.0" lengthAdjust="spacingAndGlyphs" >400</text>
<text x="279.0" y="141.0" font-size="20.9" textLength="23.0" lengthAdjust="spacingAndGlyphs" >350</text>
<text x="279.0" y="171.7" font-size="20.9" textLength="23.5" lengthAdjust="spacingAndGlyphs" >300</text>
<text x="279.0" y="201.5" font-size="20.9" textLength="25.0" lengthAdjust="spacingAndGlyphs" >250</text>
<text x="279.5" y="232.1" font-size="20.9" textLength="24.5" lengthAdjust="spacingAndGlyphs" >200</text>
<text x="279.5" y="262.0" font-size="20.9" textLength="22.5" lengthAdjust="spacingAndGlyphs" >150</text>
<text x="280.0" y="291.5" font-size="20.9" textLength="22.0" lengthAdjust="spacingAndGlyphs" >100</text>
<text x="280.0" y="315.5" font-size="20.9" textLength="16.0" lengthAdjust="spacingAndGlyphs" >50</text>
<text x="270.0" y="385.5" font-size="20.9" textLength="25.0" lengthAdjust="spacingAndGlyphs" >100</text>
<text x="278.0" y="428.2" font-size="20.9" textLength="17.0" lengthAdjust="spacingAndGlyphs" >50</text>
<text x="270.0" y="495.5" font-size="20.9" textLength="23.0" lengthAdjust="spacingAndGlyphs" >150</text>
<text x="278.3" y="533.2" font-size="20.9" textLength="23.4" lengthAdjust="spacingAndGlyphs" >100</text>
<text x="280.0" y="554.5" font-size="20.9" textLength="16.0" lengthAdjust="spacingAndGlyphs" >50</text>
<text x="270.7" y="615.5" font-size="20.9" textLength="25.1" lengthAdjust="spacingAndGlyphs" >150</text>
<text x="279.0" y="657.8" font-size="20.9" textLength="22.6" lengthAdjust="spacingAndGlyphs" >100</text>
<text x="279.0" y="677.5" font-size="20.9" textLength="18.0" lengthAdjust="spacingAndGlyphs" >50</text>
<text x="269.5" y="796.5" font-size="20.9" textLength="23.2" lengthAdjust="spacingAndGlyphs" >150</text>
<text x="279.0" y="834.1" font-size="20.9" textLength="23.0" lengthAdjust="spacingAndGlyphs" >100</text>
<text x="279.0" y="858.9" font-size="20.9" textLength="18.0" lengthAdjust="spacingAndGlyphs" >50</text>
<text x="584.0" y="254.0" font-size="20.9" textLength="26.0" lengthAdjust="spacingAndGlyphs" >150</text>
<text x="593.3" y="292.5" font-size="20.9" textLength="21.7" lengthAdjust="spacingAndGlyphs" >100</text>
<text x="593.3" y="313.5" font-size="20.9" textLength="18.4" lengthAdjust="spacingAndGlyphs" >50</text>
<text x="587.3" y="553.5" font-size="20.9" textLength="17.7" lengthAdjust="spacingAndGlyphs" >50</text>
<text x="587.0" y="676.2" font-size="20.9" textLength="18.0" lengthAdjust="spacingAndGlyphs" >50</text>
<text x="585.0" y="828.2" font-size="20.9" textLength="21.7" lengthAdjust="spacingAndGlyphs" >100</text>
<text x="593.3" y="856.5" font-size="20.9" textLength="16.7" lengthAdjust="spacingAndGlyphs" >50</text>
<text x="900.0" y="316.8" font-size="20.9" textLength="16.8" lengthAdjust="spacingAndGlyphs" >50</text>
<text x="904.0" y="283.5" font-size="20.9" textLength="21.5" lengthAdjust="spacingAndGlyphs" >100</text>
<text x="902.3" y="555.0" font-size="20.9" textLength="18.7" lengthAdjust="spacingAndGlyphs" >50</text>
<text x="899.0" y="678.0" font-size="20.9" textLength="16.0" lengthAdjust="spacingAndGlyphs" >50</text>
<text x="902.3" y="645.5" font-size="20.9" textLength="22.3" lengthAdjust="spacingAndGlyphs" >100</text>
<text x="904.0" y="857.5" font-size="20.9" textLength="19.3" lengthAdjust="spacingAndGlyphs" >50</text>
<text x="1224.5" y="144.5" font-size="20.9" textLength="25.5" lengthAdjust="spacingAndGlyphs" >350</text>
<text x="1224.5" y="171.3" font-size="20.9" textLength="25.8" lengthAdjust="spacingAndGlyphs" >300</text>
<text x="1224.5" y="203.2" font-size="20.9" textLength="25.8" lengthAdjust="spacingAndGlyphs" >250</text>
<text x="1225.0" y="233.9" font-size="20.9" textLength="26.0" lengthAdjust="spacingAndGlyphs" >200</text>
<text x="1225.0" y="263.9" font-size="20.9" textLength="23.5" lengthAdjust="spacingAndGlyphs" >150</text>
<text x="1225.0" y="294.0" font-size="20.9" textLength="24.0" lengthAdjust="spacingAndGlyphs" >100</text>
<text x="1224.5" y="316.7" font-size="20.9" textLength="15.5" lengthAdjust="spacingAndGlyphs" >50</text>
<text x="1221.7" y="657.5" font-size="20.9" textLength="21.6" lengthAdjust="spacingAndGlyphs" >100</text>
<text x="1221.7" y="677.2" font-size="20.9" textLength="16.6" lengthAdjust="spacingAndGlyphs" >50</text>
<text x="1213.3" y="737.2" font-size="20.9" textLength="25.0" lengthAdjust="spacingAndGlyphs" >250</text>
<text x="1222.7" y="774.8" font-size="20.9" textLength="24.0" lengthAdjust="spacingAndGlyphs" >200</text>
<text x="1222.7" y="808.2" font-size="20.9" textLength="20.3" lengthAdjust="spacingAndGlyphs" >150</text>
<text x="1223.0" y="838.2" font-size="20.9" textLength="22.0" lengthAdjust="spacingAndGlyphs" >100</text>
<text x="1221.7" y="856.5" font-size="20.9" textLength="16.6" lengthAdjust="spacingAndGlyphs" >50</text>
</g>
<g font-family="'Liberation Sans', sans-serif" fill="#0a0a0a" font-style="italic" stroke="#0a0a0a" stroke-width="0.7" stroke-linejoin="round">
<text x="54.3" y="204.0" font-size="22.3" textLength="60.0" lengthAdjust="spacingAndGlyphs" >TOTAL</text>
<text x="50.0" y="385.0" font-size="20.9" textLength="78.3" lengthAdjust="spacingAndGlyphs" >HABER</text>
<text x="45.0" y="406.0" font-size="21.6" textLength="88.3" lengthAdjust="spacingAndGlyphs" >PROCESS</text>
<text x="13.3" y="509.3" font-size="20.9" textLength="115.0" lengthAdjust="spacingAndGlyphs" >CYANAMID</text>
<text x="20.0" y="530.0" font-size="21.4" textLength="90.0" lengthAdjust="spacingAndGlyphs" >PROCESS</text>
<text x="7.0" y="635.8" font-size="22.1" textLength="128.3" lengthAdjust="spacingAndGlyphs" >BY-PRODUCT</text>
<text x="7.7" y="657.5" font-size="20.5" textLength="102.5" lengthAdjust="spacingAndGlyphs" >AMMONIA</text>
<text x="52.2" y="777.4" font-size="22.9" textLength="58.0" lengthAdjust="spacingAndGlyphs" >CHILE</text>
<text x="45.6" y="800.6" font-size="23.2" textLength="83.9" lengthAdjust="spacingAndGlyphs" >NITRATE</text>
<text x="1374.8" y="204.8" font-size="22.1" textLength="56.2" lengthAdjust="spacingAndGlyphs" >TOTAL</text>
<text x="1373.0" y="433.5" font-size="23.0" textLength="105.6" lengthAdjust="spacingAndGlyphs" >CYANAMID</text>
<text x="1377.4" y="459.0" font-size="21.9" textLength="85.6" lengthAdjust="spacingAndGlyphs" >PROCESS</text>
<text x="1372.6" y="632.7" font-size="19.7" textLength="129.4" lengthAdjust="spacingAndGlyphs" >BY-PRODUCT</text>
<text x="1373.5" y="654.9" font-size="18.6" textLength="95.5" lengthAdjust="spacingAndGlyphs" >AMMONIA</text>
<text x="1374.8" y="786.7" font-size="22.2" textLength="59.7" lengthAdjust="spacingAndGlyphs" >CHILE</text>
<text x="1373.5" y="809.7" font-size="21.6" textLength="80.9" lengthAdjust="spacingAndGlyphs" >NITRATE</text>
<text x="28.3" y="426.0" font-size="22.0" textLength="110.0" lengthAdjust="spacingAndGlyphs" stroke-width="0.45">(Domestic)</text>
<text x="5.0" y="551.0" font-size="22.0" textLength="123.3" lengthAdjust="spacingAndGlyphs" stroke-width="0.45">(Domestic)</text>
<text x="2.0" y="677.5" font-size="21.0" textLength="125.6" lengthAdjust="spacingAndGlyphs" stroke-width="0.45">(Domestic)</text>
<text x="39.8" y="822.0" font-size="22.0" textLength="99.4" lengthAdjust="spacingAndGlyphs" stroke-width="0.45">(Imports)</text>
<text x="1374.0" y="482.5" font-size="22.0" textLength="120.0" lengthAdjust="spacingAndGlyphs" stroke-width="0.45">(Domestic)</text>
<text x="1372.6" y="678.0" font-size="20.0" textLength="115.0" lengthAdjust="spacingAndGlyphs" stroke-width="0.45">(Domestic)</text>
<text x="1372.6" y="829.0" font-size="21.0" textLength="109.7" lengthAdjust="spacingAndGlyphs" stroke-width="0.45">(Imports)</text>
</g>
</svg>
</body></html>
